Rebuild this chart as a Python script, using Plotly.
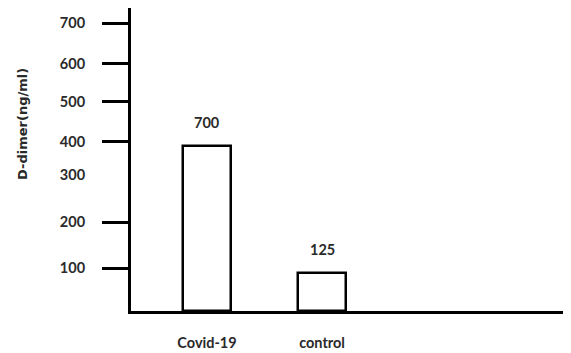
import plotly.graph_objects as go

categories = ["Covid-19", "control"]
bar_labels = ["700", "125"]          # values printed above the bars
bar_heights = [392, 90]              # heights as drawn against the (uneven) axis
tick_labels = ["100", "200", "300", "400", "500", "600", "700"]
tick_positions = [102, 211, 323, 402, 497, 587, 684]   # where each label sits on the drawn axis
tick_marked = [True, True, False, True, True, True, True]  # 300 has no tick mark

font_fam = "Lato"
txt_col = "#2a2a2a"
fnt = dict(family=font_fam, size=14.5, color=txt_col, weight="bold")
title_fnt = dict(family="DejaVu Sans", size=13, color=txt_col, weight="bold")

fig = go.Figure()
fig.add_trace(go.Bar(
    x=categories, y=bar_heights, width=0.417,
    marker=dict(color="white", line=dict(color="black", width=2.5)),
    showlegend=False, hoverinfo="skip",
))
fig.add_trace(go.Scatter(x=[categories[0]], y=[0], yaxis="y2", mode="markers",
                         marker=dict(opacity=0), showlegend=False, hoverinfo="skip"))

for c, h, t in zip(categories, bar_heights, bar_labels):
    fig.add_annotation(x=c, y=h, text=t, showarrow=False, yshift=24, font=fnt)

fig.add_annotation(xref="paper", yref="paper", x=-0.248, y=0.617, xanchor="center", yanchor="middle",
                   text="D-dimer(ng/ml)", textangle=-90, showarrow=False, font=title_fnt)

yr = [0, 720]
fig.update_layout(
    width=563, height=345,
    margin=dict(l=123, r=0, t=0, b=42),
    plot_bgcolor="white", paper_bgcolor="white",
    bargap=0,
    xaxis=dict(type="category", range=[-0.661, 3.165], showline=True, linecolor="black",
               linewidth=3, ticks="", showgrid=False, zeroline=False,
               tickfont=fnt, ticklabelstandoff=17),
    yaxis=dict(range=yr, showline=True, linecolor="black", linewidth=3, showgrid=False,
               zeroline=False, tickvals=tick_positions, ticktext=tick_labels,
               ticks="outside", ticklen=40, tickcolor="rgba(0,0,0,0)", tickfont=fnt),
    yaxis2=dict(range=yr, overlaying="y", side="left", showline=False, showgrid=False,
                zeroline=False, showticklabels=False,
                tickvals=[p for p, m in zip(tick_positions, tick_marked) if m],
                ticks="outside", ticklen=28, tickwidth=3, tickcolor="black"),
)
fig.write_html("out.html")
